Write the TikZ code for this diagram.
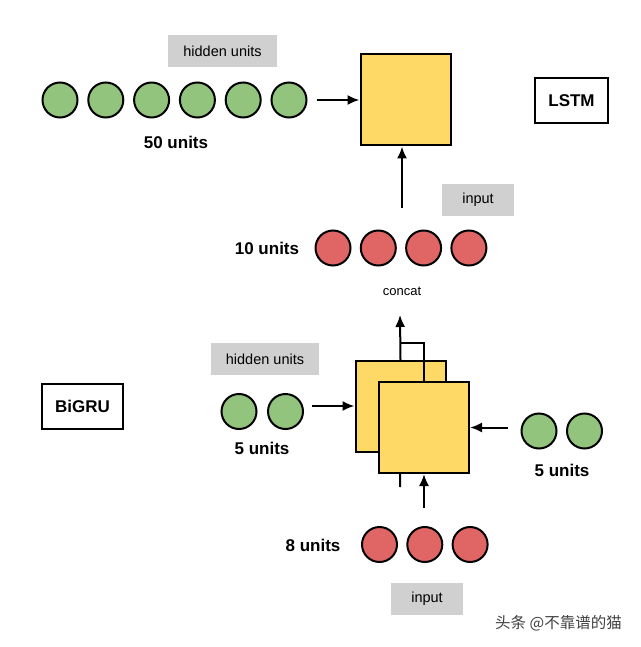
\documentclass[tikz,border=0pt]{standalone}
\usepackage{fontspec}
\setmainfont{Liberation Sans}
\newfontfamily\cjk{Noto Sans CJK SC}
\usetikzlibrary{arrows.meta}
\definecolor{unitgreen}{HTML}{93C47D}
\definecolor{unitred}{HTML}{E06666}
\definecolor{cellyellow}{HTML}{FFD966}
\definecolor{taggray}{HTML}{D0D0D0}
\begin{document}
\begin{tikzpicture}[x=1pt, y=-1pt,
    gunit/.style={circle, draw, line width=2pt, fill=unitgreen, minimum size=35pt, inner sep=0pt},
    runit/.style={circle, draw, line width=2pt, fill=unitred, minimum size=35pt, inner sep=0pt},
    cell/.style={draw, line width=2pt, fill=cellyellow, minimum width=90pt, minimum height=91pt, inner sep=0pt},
    tag/.style={fill=taggray, minimum height=32pt, font=\fontsize{14.5}{16}\selectfont, inner sep=0pt},
    count/.style={font=\fontsize{17}{19}\selectfont\bfseries},
    modelbox/.style={draw, line width=1.6pt, minimum height=45pt, font=\fontsize{17}{19}\selectfont\bfseries, inner sep=0pt},
    arr/.style={-{Latex[length=12pt,width=10pt]}, line width=2pt},
    wire/.style={line width=2pt}]
  \useasboundingbox (0,0) rectangle (640,647);

  % LSTM part
  \foreach \i in {1,...,6}
    \node[gunit] (h\i) at ({60+45.8*(\i-1)},100) {};
  \node[tag, minimum width=109pt] (hidtag) at (222.5,51) {hidden units};
  \node[count] (fifty) at (176,142) {50 units};
  \node[cell] (lstm) at (405.5,100) {};
  \node[modelbox, minimum width=73pt] (lstmname) at (571.5,100.5) {LSTM};
  \draw[arr] ([xshift=9pt]h6.east) -- (lstm.west);

  \foreach \i in {1,...,4}
    \node[runit] (x\i) at ({333+45.3*(\i-1)},248) {};
  \node[count] (ten) at (267,248) {10 units};
  \node[tag, minimum width=72pt] (intag) at (478,199.5) {input};
  \coordinate (lstmin) at (402,208);
  \draw[arr] (lstmin) -- (lstmin |- lstm.south);

  \node[font=\fontsize{13}{15}\selectfont] (concat) at (402,291) {concat};

  % BiGRU part
  \node[modelbox, minimum width=81pt] (gruname) at (82.5,406.5) {BiGRU};
  \node[cell] (back) at (400.5,406.5) {};
  \coordinate (backin) at (400,487);
  \draw[wire] (backin) -- (back.south);
  \node[cell] (front) at (424,427.5) {};
  \coordinate (join) at (400,343);
  \coordinate (cat) at (400,315);
  \draw[wire] (front.north) |- (join);
  \draw[arr] (back.north) -- (cat);

  \node[tag, minimum width=108pt] (hidtagb) at (265,359) {hidden units};
  \node[gunit] (l1) at (239,411.5) {};
  \node[gunit] (l2) at (285.5,411.5) {};
  \node[count] (fivel) at (262,448) {5 units};
  \coordinate (leftin) at (312,406);
  \draw[arr] (leftin) -- (leftin -| back.west);

  \node[gunit] (r1) at (539,431) {};
  \node[gunit] (r2) at (584.5,431) {};
  \node[count] (fiver) at (562,470) {5 units};
  \coordinate (rightin) at (508,427.5);
  \draw[arr] (rightin) -- (front.east);

  \foreach \i in {1,...,3}
    \node[runit] (b\i) at ({379.5+45.3*(\i-1)},544.5) {};
  \node[count] (eight) at (313,545) {8 units};
  \node[tag, minimum width=72pt] (intagb) at (427,599) {input};
  \coordinate (frontin) at (424,508);
  \draw[arr] (frontin) -- (front.south);

  \node[font=\cjk\fontsize{15.5}{17}\selectfont, text=black!75] (mark) at (558.5,623.5) {头条 @不靠谱的猫};
\end{tikzpicture}
\end{document}
